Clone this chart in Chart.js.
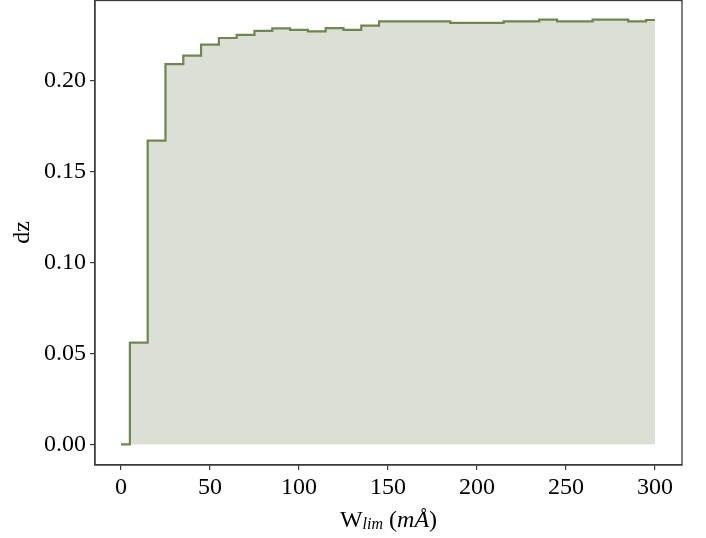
<!DOCTYPE html>
<html>
<head>
<meta charset="utf-8">
<script src="https://cdn.jsdelivr.net/npm/chart.js@4/dist/chart.umd.min.js"></script>
<style>
html,body{margin:0;padding:0;background:#fff;}
#wrap{width:706px;height:538px;position:relative;}
</style>
</head>
<body>
<div id="wrap"><canvas id="c" width="706" height="538"></canvas></div>
<script>
// Data (W_lim in mÅ, dz values)
const wlim = [0,10,20,30,40,50,60,70,80,90,100,110,120,130,140,150,160,170,180,190,200,210,220,230,240,250,260,270,280,290,300];
const dz = [0,0.056,0.167,0.209,0.2137,0.2198,0.2234,0.2251,0.2273,0.2287,0.2279,0.2271,0.2288,0.2279,0.2302,0.2326,0.2326,0.2326,0.2326,0.2317,0.2317,0.2317,0.2326,0.2326,0.2335,0.2326,0.2326,0.2335,0.2335,0.2326,0.2333];
const xTicks = [0,50,100,150,200,250,300];
const yTicks = [0,0.05,0.10,0.15,0.20];

const FONT = "'Liberation Serif', 'DejaVu Serif', serif";
const AXIS = '#3a3a3a';

const framePlugin = {
  id: 'frame',
  afterDraw(chart) {
    const {ctx, chartArea: a} = chart;
    ctx.save();
    ctx.strokeStyle = AXIS;
    ctx.lineWidth = 1.3;
    ctx.strokeRect(a.left, a.top + 0.5, a.right - a.left, a.bottom - a.top - 0.5);
    // x-axis title with mathtext-like styling
    const parts = [
      {t: 'W', f: "24px " + FONT, dy: 0},
      {t: 'lim', f: "italic 16px " + FONT, dy: 2},
      {t: ' (', f: "24px " + FONT, dy: 0},
      {t: 'mÅ', f: "italic 24px " + FONT, dy: 0},
      {t: ')', f: "24px " + FONT, dy: 0}
    ];
    let total = 0;
    parts.forEach(p => { ctx.font = p.f; p.w = ctx.measureText(p.t).width; total += p.w; });
    let x = (a.left + a.right) / 2 - total / 2;
    const base = 527;
    ctx.fillStyle = '#000';
    ctx.textBaseline = 'alphabetic';
    ctx.textAlign = 'left';
    parts.forEach(p => { ctx.font = p.f; ctx.fillText(p.t, x, base + p.dy); x += p.w; });
    ctx.restore();
  }
};

function noPad(s) { s.paddingTop = 0; s.paddingBottom = 0; s.paddingLeft = 0; s.paddingRight = 0; }

new Chart(document.getElementById('c'), {
  type: 'line',
  data: {
    datasets: [{
      data: wlim.map((w, i) => ({x: w, y: dz[i]})),
      stepped: 'middle',
      borderColor: '#6f8651',
      borderWidth: 2.2,
      backgroundColor: '#dcdfd5',
      fill: 'origin',
      pointRadius: 0,
      tension: 0
    }]
  },
  options: {
    responsive: false,
    animation: false,
    devicePixelRatio: 1,
    layout: {padding: {left: 0, right: 24, top: 0, bottom: 0}},
    plugins: {legend: {display: false}, tooltip: {enabled: false}},
    scales: {
      x: {
        type: 'linear',
        min: -14.6,
        max: 315.2,
        afterFit(s) { s.height = 73; noPad(s); },
        afterBuildTicks(s) { s.ticks = xTicks.map(v => ({value: v})); },
        grid: {display: true, drawOnChartArea: false, drawTicks: true, tickLength: 5, color: AXIS, lineWidth: 1.2},
        border: {display: true, color: AXIS, width: 1.3},
        ticks: {font: {family: FONT, size: 24}, color: '#000', padding: 3, maxRotation: 0, autoSkip: false,
          callback: v => String(v)}
      },
      y: {
        type: 'linear',
        min: -0.0113,
        max: 0.2443,
        afterFit(s) { s.width = 95; noPad(s); },
        afterBuildTicks(s) { s.ticks = yTicks.map(v => ({value: v})); },
        grid: {display: true, drawOnChartArea: false, drawTicks: true, tickLength: 5, color: AXIS, lineWidth: 1.2},
        border: {display: true, color: AXIS, width: 1.3},
        ticks: {font: {family: FONT, size: 24}, color: '#000', padding: 4, autoSkip: false,
          callback: v => Number(v).toFixed(2)},
        title: {display: true, text: 'dz', font: {family: FONT, size: 24}, color: '#000', padding: {top: 8, bottom: 0}}
      }
    }
  },
  plugins: [framePlugin]
});
</script>
</body>
</html>
